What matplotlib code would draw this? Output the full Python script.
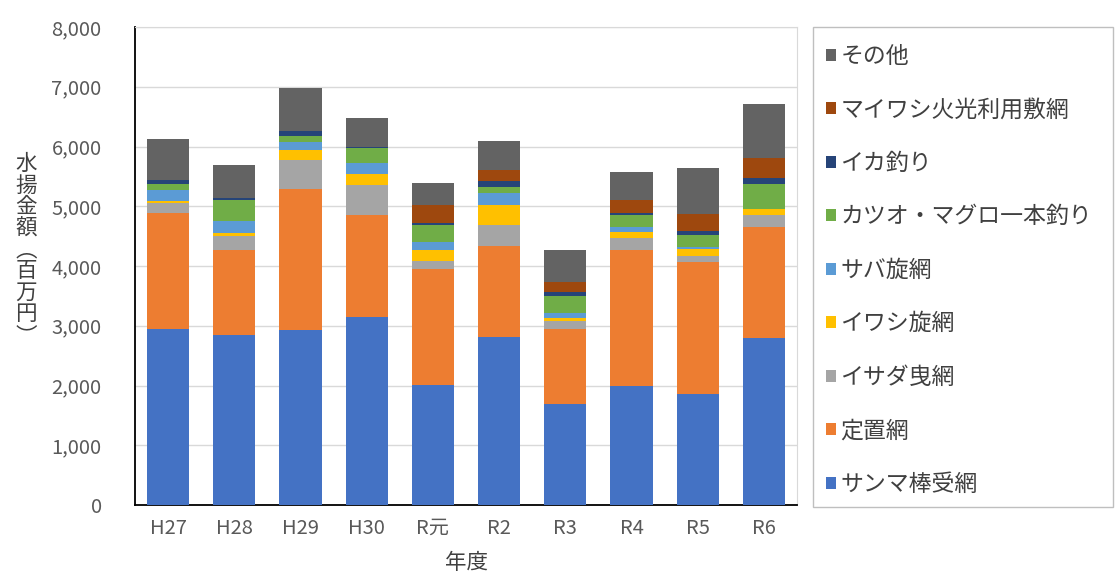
import matplotlib
matplotlib.use("Agg")
import matplotlib.pyplot as plt
from matplotlib.patches import Rectangle
import numpy as np

plt.rcParams['font.family'] = ['Noto Sans CJK JP', 'DejaVu Sans']

# 年度
nendo = ["H27", "H28", "H29", "H30", "R元", "R2", "R3", "R4", "R5", "R6"]

# 漁業種類別の水揚金額（百万円）
sanma = [2940, 2845, 2930, 3140, 2010, 2815, 1685, 1990, 1860, 2790]
teichi = [1940, 1420, 2360, 1715, 1935, 1525, 1255, 2275, 2215, 1870]
isada = [170, 240, 485, 500, 140, 345, 145, 200, 95, 195]
iwashi = [40, 40, 165, 185, 185, 335, 45, 100, 115, 95]
saba = [180, 200, 140, 180, 140, 195, 80, 90, 30, 0]
katsuo = [110, 360, 95, 250, 270, 100, 290, 200, 205, 415]
ika = [60, 35, 85, 30, 35, 105, 70, 30, 65, 100]
maiwashi = [0, 0, 0, 0, 305, 185, 160, 220, 285, 335]
sonota = [680, 555, 715, 480, 365, 485, 530, 475, 765, 910]

series = [
    ("サンマ棒受網", sanma, "#4472C4"),
    ("定置網", teichi, "#ED7D31"),
    ("イサダ曳網", isada, "#A5A5A5"),
    ("イワシ旋網", iwashi, "#FFC000"),
    ("サバ旋網", saba, "#5B9BD5"),
    ("カツオ・マグロ一本釣り", katsuo, "#70AD47"),
    ("イカ釣り", ika, "#264478"),
    ("マイワシ火光利用敷網", maiwashi, "#9E480E"),
    ("その他", sonota, "#636363"),
]

W, H = 1116, 583
fig = plt.figure(figsize=(W / 100, H / 100), dpi=100)
ax = fig.add_axes([135 / W, 78 / H, 662 / W, 478 / H])

x = np.arange(len(nendo))
bottom = np.zeros(len(nendo))
handles = []
for name, vals, col in series:
    b = ax.bar(x, vals, 0.64, bottom=bottom, color=col, label=name, zorder=3)
    bottom += np.array(vals)
    handles.append(b)

ax.set_ylim(0, 8000)
ax.set_xlim(-0.5, len(nendo) - 0.5)
ax.set_yticks(range(0, 8001, 1000))
ax.set_yticklabels([f"{v:,}" for v in range(0, 8001, 1000)])
ax.set_xticks(x)
ax.set_xticklabels(nendo)
ax.tick_params(axis="both", length=0, labelsize=14.5, colors="#595959")
ax.tick_params(axis="y", pad=24)
ax.tick_params(axis="x", pad=9)
ax.grid(axis="y", color="#D9D9D9", linewidth=1, zorder=0)

for s in ["top", "right"]:
    ax.spines[s].set_color("#D9D9D9")
ax.spines["left"].set_color("black")
ax.spines["bottom"].set_color("black")
ax.spines["left"].set_linewidth(1.3)
ax.spines["bottom"].set_linewidth(1.3)

ax.set_xlabel("年度", fontsize=15.5, color="#404040", labelpad=10)
fig.text(26 / W, 1 - 250 / H, "\n".join("水揚金額︵百万円︶"), fontsize=15.5,
         color="#404040", ha="center", va="center", linespacing=0.97)

# 凡例の枠
fig.patches.append(Rectangle((813 / W, 1 - 507 / H), 300 / W, 480 / H,
                             transform=fig.transFigure, fill=False,
                             edgecolor="#BFBFBF", linewidth=1))

# 凡例（その他が上）
leg = fig.legend(handles[::-1], [s[0] for s in series[::-1]],
                 loc="upper left", bbox_to_anchor=(826 / W, 1 - 45 / H),
                 frameon=False, fontsize=16.5, handlelength=0.42,
                 handleheight=0.42, handletextpad=0.2, labelspacing=1.33,
                 borderpad=0, borderaxespad=0)
for t in leg.get_texts():
    t.set_color("#404040")

fig.savefig("out.png", dpi=100)
